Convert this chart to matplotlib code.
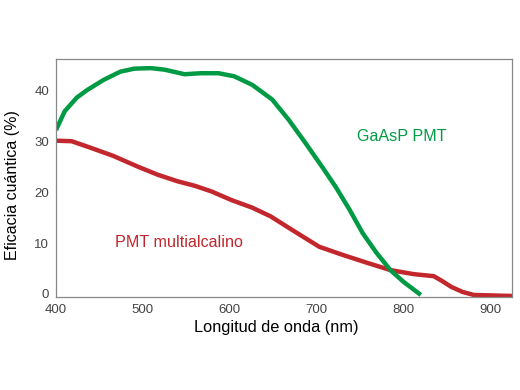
import matplotlib
matplotlib.use("Agg")
import matplotlib.pyplot as plt

plt.rcParams['font.family'] = ['Liberation Sans', 'DejaVu Sans']

# GaAsP PMT quantum efficiency
gaasp_nm = [400, 410, 424, 436, 455, 474, 490, 509, 525, 548, 567, 587, 605,
            626, 649, 668, 687, 707, 722, 738, 753, 769, 785, 800, 820]
gaasp_qe = [32.3, 36.0, 38.7, 40.2, 42.2, 43.8, 44.4, 44.5, 44.2, 43.3, 43.5, 43.5, 42.9,
            41.2, 38.3, 34.3, 29.8, 24.9, 21.1, 16.6, 12.0, 8.1, 4.7, 2.4, -0.2]

# Multialkali PMT quantum efficiency
multi_nm = [400, 418, 440, 466, 494, 517, 540, 560, 579, 602, 626, 647, 672,
            703, 730, 757, 785, 812, 835, 845, 855, 868, 881, 925]
multi_qe = [30.2, 30.1, 28.8, 27.2, 25.1, 23.5, 22.2, 21.3, 20.2, 18.5, 17.0, 15.3, 12.6,
            9.3, 7.7, 6.2, 4.7, 3.9, 3.5, 2.5, 1.4, 0.4, -0.2, -0.4]

xticks = [400, 500, 600, 700, 800, 900]
yticks = [0, 10, 20, 30, 40]

green = '#009A44'
red = '#C1272D'

fig = plt.figure(figsize=(5.2, 3.9), dpi=100)
ax = fig.add_axes([0.1077, 0.2385, 0.8769, 0.6102])

ax.plot(multi_nm, multi_qe, color=red, lw=3.2, solid_joinstyle='round', solid_capstyle='butt')
ax.plot(gaasp_nm, gaasp_qe, color=green, lw=3.2, solid_joinstyle='round', solid_capstyle='butt')

ax.set_xlim(400, 925)
ax.set_ylim(-0.6, 46.3)
ax.set_xticks(xticks)
ax.set_yticks(yticks)
ax.tick_params(length=0, labelsize=9.5, labelcolor='#444444', pad=5)
for s in ax.spines.values():
    s.set_color('#888888')
    s.set_linewidth(0.9)

ax.set_xlabel('Longitud de onda (nm)', fontsize=11.8, labelpad=4)
ax.xaxis.set_label_coords(0.483, -0.095)
ax.set_ylabel('Eficacia cuántica (%)', fontsize=11.5, labelpad=8)
ax.yaxis.set_label_coords(-0.078, 0.47)

ax.text(798, 31, 'GaAsP PMT', color=green, fontsize=11.6, ha='center', va='center')
ax.text(541, 10.1, 'PMT multialcalino', color=red, fontsize=11.6, ha='center', va='center')

fig.savefig('out.png', dpi=100)
